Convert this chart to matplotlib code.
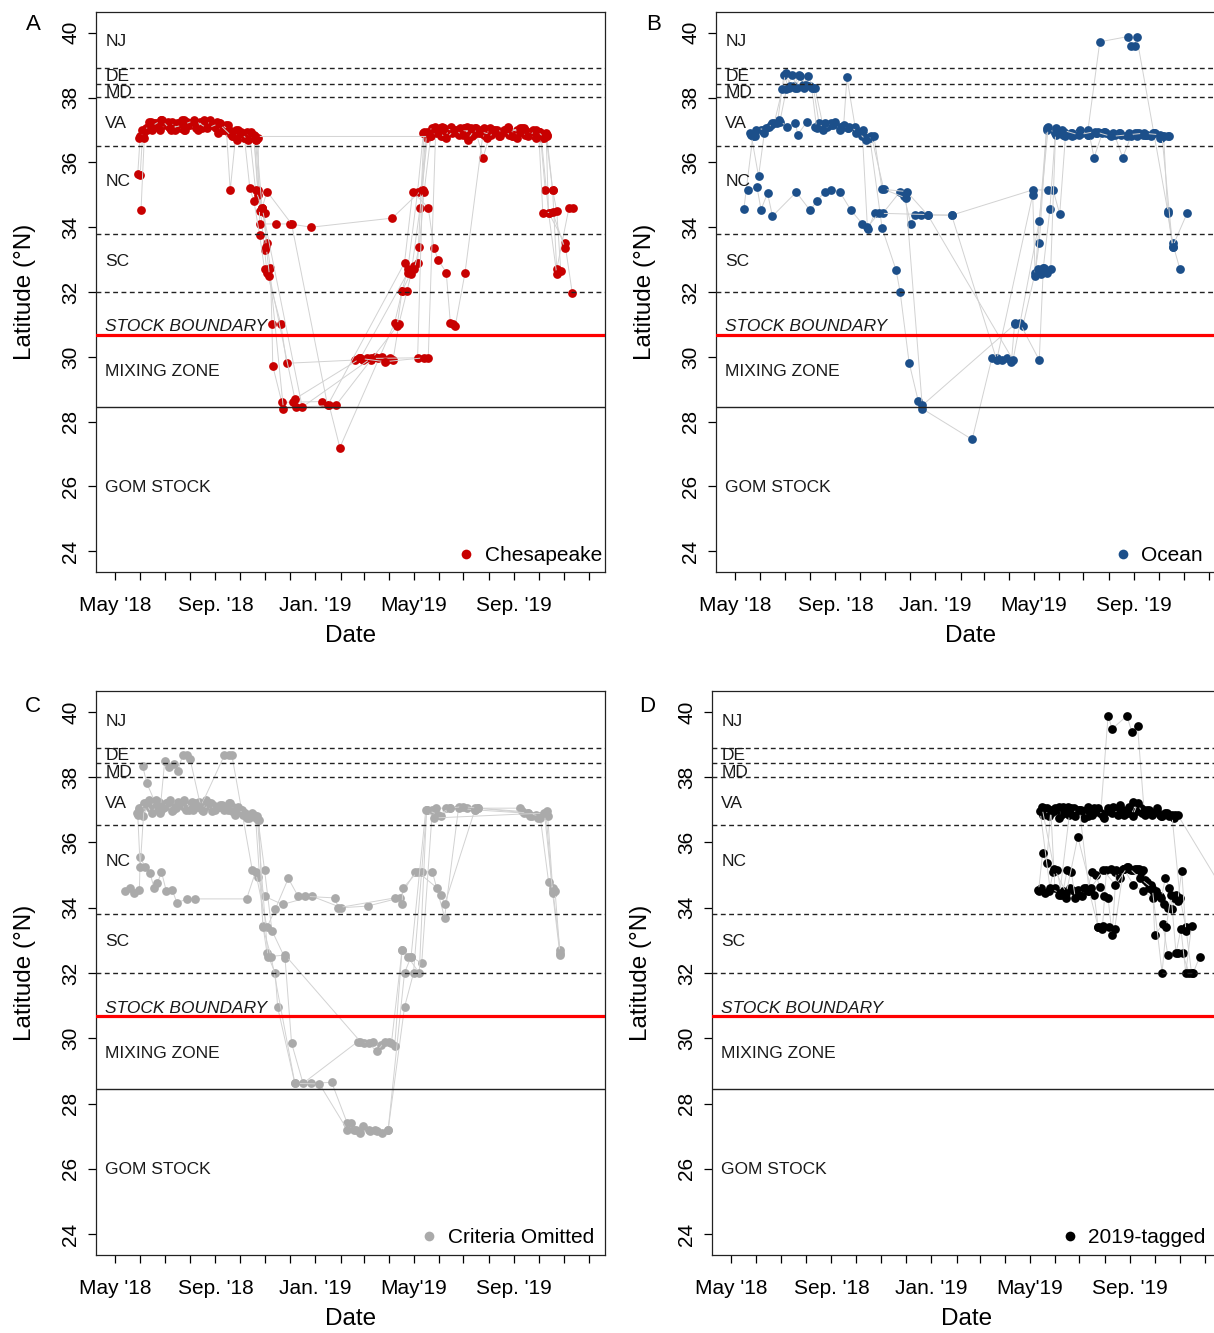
import numpy as np
import matplotlib.pyplot as plt

plt.rcParams['font.family'] = ['Liberation Sans', 'DejaVu Sans']

# each inner list is one fish: days after 1 May 2018 and latitude (deg N)
chs_days = [
    [28, 31, 40, 50, 60, 70, 80, 90, 100, 110, 120, 130, 140, 150, 160, 170, 175, 180, 186, 190, 192, 193, 204, 218, 253, 262, 275, 342, 351, 358, 370, 377, 387, 397, 407, 417, 427, 437, 447, 457, 467, 477, 487, 497, 507, 517, 527, 530, 550, 559],
    [31, 34, 44, 54, 64, 74, 84, 94, 104, 114, 124, 134, 144, 154, 164, 172, 178, 183, 186, 203, 210, 293, 298, 303, 308, 313, 318, 322, 327, 332, 336, 340, 347, 357, 362, 373, 380, 390, 400, 410, 420, 430, 440, 450, 460, 470, 480, 490, 500, 510, 520, 527, 535, 540, 545],
    [32, 36, 46, 56, 66, 76, 86, 96, 106, 116, 126, 136, 141, 148, 158, 168, 175, 177, 197, 214, 240, 339, 375, 382, 392, 402, 412, 422, 432, 442, 452, 462, 472, 482, 492, 502, 512, 522, 528],
    [38, 48, 58, 68, 78, 88, 98, 108, 118, 128, 138, 148, 158, 165, 170, 177, 183, 189, 206, 222, 270, 345, 351, 366, 370, 378, 388, 398, 408, 418, 428, 438, 448, 458, 468, 478, 488, 498, 508, 518, 528, 535, 540, 555, 560],
    [42, 52, 62, 72, 82, 92, 102, 112, 122, 132, 142, 152, 162, 170, 175, 183, 185, 189, 220, 300, 358, 366, 372, 378, 386, 394, 400, 411, 421, 431, 441, 451, 461, 471, 481, 491, 501, 511, 521, 530, 540],
    [35, 45, 55, 65, 75, 85, 95, 105, 115, 125, 135, 145, 155, 165, 172, 180, 186, 216, 260, 354, 364, 383, 390, 395, 405, 410, 413, 416, 428, 450, 465, 480, 495, 510, 520, 526],
    [29, 39, 49, 59, 69, 79, 89, 99, 109, 119, 129, 139, 149, 159, 167, 173, 180, 229, 313, 370, 376, 381, 391, 401, 411, 421, 431, 441, 451, 461, 471, 481, 491, 501, 511, 518, 523, 535, 550],
    [300, 330, 378, 383, 392, 402, 420, 440, 460, 480, 500, 515],
    [33, 44, 57, 67, 83, 97, 113, 127, 143, 153, 163, 171, 385, 395, 405, 415, 425, 435, 445, 455, 465, 475, 485, 495, 505, 515, 525],
]
chs_lats = [
    [35.63, 36.8, 37.1, 37.2, 37.15, 37.25, 37.05, 37.2, 37.1, 37.2, 37.15, 37.0, 36.9, 37.0, 36.8, 36.85, 35.15, 34.6, 33.5, 32.75, 31.0, 29.72, 28.6, 28.6, 28.62, 28.5, 27.2, 31.05, 32.03, 32.7, 35.1, 36.9, 37.0, 37.05, 36.9, 37.0, 37.05, 36.8, 36.9, 36.85, 37.0, 37.0, 36.8, 37.0, 36.95, 36.85, 36.9, 34.45, 33.5, 31.97],
    [35.6, 36.9, 37.25, 37.1, 37.2, 37.0, 37.3, 37.2, 37.25, 37.2, 37.05, 37.1, 36.8, 36.95, 36.75, 36.7, 34.5, 33.3, 32.6, 31.0, 29.8, 29.9, 29.95, 29.9, 29.95, 29.9, 30.0, 29.95, 30.0, 29.9, 29.95, 29.9, 31.0, 32.03, 32.55, 34.6, 36.85, 37.05, 37.1, 36.95, 37.0, 37.1, 37.05, 36.15, 37.0, 36.8, 37.05, 36.9, 37.05, 36.9, 36.95, 36.8, 35.15, 34.5, 32.65],
    [34.52, 36.75, 37.0, 37.3, 37.1, 37.2, 37.0, 37.25, 37.05, 37.3, 36.9, 37.15, 35.14, 36.9, 36.75, 36.8, 36.75, 34.1, 34.1, 34.1, 34.0, 34.28, 35.15, 36.75, 37.0, 36.85, 36.9, 37.05, 36.75, 37.0, 36.85, 37.0, 36.9, 36.85, 37.0, 36.9, 36.85, 36.75, 36.85],
    [37.05, 37.2, 37.3, 37.15, 37.1, 37.25, 37.2, 37.1, 37.2, 37.05, 37.15, 37.0, 36.85, 35.2, 34.8, 33.75, 32.7, 32.7, 28.4, 28.45, 28.5, 30.95, 32.03, 32.8, 32.9, 36.95, 37.05, 36.8, 37.0, 36.9, 37.05, 36.85, 37.0, 37.05, 36.9, 36.95, 36.85, 37.05, 36.9, 36.95, 36.8, 35.15, 32.7, 34.6, 34.6],
    [37.25, 37.1, 37.2, 37.05, 37.3, 37.15, 37.0, 37.25, 37.1, 37.0, 36.9, 36.8, 36.95, 36.75, 35.0, 34.45, 33.4, 32.5, 28.7, 29.95, 32.6, 32.7, 33.4, 35.1, 36.8, 37.0, 36.9, 37.1, 36.85, 37.0, 36.9, 37.05, 36.95, 36.8, 37.0, 36.95, 36.85, 37.0, 36.8, 34.45, 32.55],
    [36.85, 37.15, 37.0, 37.25, 37.1, 37.0, 37.2, 37.1, 37.15, 37.25, 37.0, 36.85, 36.9, 36.8, 35.15, 34.6, 35.1, 34.1, 28.5, 32.9, 35.1, 34.6, 33.35, 33.0, 32.6, 31.05, 31.0, 30.95, 32.6, 36.9, 37.0, 36.95, 37.05, 36.9, 36.85, 35.15],
    [36.75, 37.0, 37.15, 37.25, 37.0, 37.2, 37.15, 37.05, 37.3, 37.15, 37.2, 37.0, 36.7, 36.75, 36.95, 36.7, 34.6, 28.45, 29.95, 29.97, 35.15, 36.95, 37.1, 36.8, 37.0, 36.9, 36.7, 37.05, 36.85, 37.0, 36.9, 37.1, 36.75, 37.0, 36.85, 36.95, 34.45, 34.46, 33.35],
    [29.95, 29.85, 29.97, 29.97, 36.9, 37.05, 36.95, 37.0, 36.85, 37.05, 36.9, 36.75],
    [37.0, 37.1, 37.3, 37.05, 37.15, 37.3, 37.05, 37.2, 36.8, 36.9, 36.7, 36.8, 36.8, 36.95, 36.75, 37.0, 36.85, 37.05, 36.9, 36.75, 36.95, 37.0, 36.8, 36.95, 36.8, 37.0, 36.75],
]

ocn_days = [
    [11, 22, 32, 42, 52, 60, 66, 72, 78, 85, 92, 98, 108, 118, 128, 138, 148, 158, 165, 180, 197, 202, 213, 224, 229, 290, 314, 320, 326, 332, 338, 342, 352, 367, 372, 381, 391, 401, 411, 421, 431, 446, 480, 484, 489, 491, 529, 535, 544],
    [16, 27, 32, 40, 46, 75, 92, 100, 110, 118, 128, 142, 156, 163, 171, 181, 202, 207, 215, 220, 228, 236, 265, 364, 383, 389, 397, 404, 414, 424, 434, 444, 454, 464, 474, 484, 494, 504, 514, 524, 529, 535, 553],
    [20, 29, 36, 45, 55, 63, 70, 76, 83, 90, 96, 103, 113, 123, 133, 137, 147, 157, 167, 182, 209, 229, 342, 348, 372, 377, 385, 392, 402, 412, 422, 432, 439, 449, 459, 469, 479, 489, 499, 509, 519, 529],
    [25, 34, 44, 54, 64, 74, 77, 88, 98, 108, 118, 128, 138, 148, 156, 162, 176, 265, 320, 364, 367, 381, 391, 401, 411, 421, 431, 441, 451, 461, 471, 481, 491, 501, 511, 521, 531],
    [18, 26, 38, 48, 58, 62, 68, 74, 80, 87, 94, 100, 110, 120, 130, 140, 150, 160, 170, 180, 210, 236, 340, 372, 383, 392, 402, 412, 422, 432, 442, 452, 462, 472, 482, 492, 502, 512, 522, 535],
    [370, 374, 378, 382, 386, 392, 400, 420, 440, 460, 480, 500, 520],
]
ocn_lats = [
    [34.55, 36.8, 37.0, 37.1, 37.2, 38.7, 38.3, 38.35, 38.7, 38.3, 38.35, 38.3, 37.1, 37.15, 37.0, 37.05, 37.0, 36.85, 36.75, 33.97, 32.68, 32.0, 29.82, 28.65, 28.4, 27.45, 29.95, 29.95, 29.9, 29.95, 29.85, 31.05, 30.95, 32.6, 33.5, 37.0, 36.9, 36.95, 36.85, 36.9, 36.9, 39.72, 39.88, 39.6, 39.6, 39.88, 34.5, 33.5, 32.7],
    [35.14, 35.25, 34.54, 35.05, 34.34, 35.08, 34.52, 34.8, 35.1, 35.15, 35.1, 34.52, 34.1, 33.95, 34.43, 34.43, 35.1, 34.95, 34.1, 34.37, 34.37, 34.37, 34.37, 35.15, 35.15, 35.15, 34.4, 36.8, 36.85, 36.9, 36.85, 36.95, 36.9, 36.85, 36.15, 36.8, 36.9, 36.85, 36.9, 36.8, 34.45, 33.4, 34.45],
    [36.85, 35.57, 36.9, 37.2, 37.25, 38.25, 38.7, 38.3, 38.4, 38.65, 38.3, 37.2, 37.1, 37.25, 37.15, 38.62, 37.1, 37.0, 36.8, 35.17, 34.9, 28.5, 31.0, 31.05, 29.9, 32.75, 34.55, 37.05, 36.9, 36.8, 36.9, 37.0, 36.15, 36.9, 36.85, 36.9, 36.8, 36.9, 36.85, 36.8, 36.75, 36.8],
    [36.8, 37.0, 37.15, 37.3, 37.1, 37.2, 36.86, 37.25, 37.1, 37.0, 37.2, 37.1, 37.05, 36.9, 36.8, 34.0, 34.43, 34.37, 29.9, 35.0, 32.5, 37.05, 36.95, 36.85, 36.9, 36.95, 36.85, 36.9, 36.95, 36.85, 36.9, 36.85, 36.9, 36.85, 36.9, 36.75, 36.8],
    [36.9, 37.0, 37.05, 37.2, 38.25, 38.75, 38.35, 38.3, 38.65, 38.4, 38.3, 37.05, 37.2, 37.15, 37.05, 37.1, 36.95, 36.7, 36.8, 35.17, 35.1, 34.37, 29.9, 34.18, 37.1, 36.85, 36.95, 36.9, 37.0, 36.85, 36.9, 36.95, 36.9, 36.85, 36.9, 36.8, 36.85, 36.9, 36.8, 33.4],
    [32.7, 32.55, 32.75, 32.6, 32.7, 36.95, 37.0, 36.85, 36.95, 36.8, 36.85, 36.9, 36.85],
]

omit_days = [
    [27, 33, 40, 47, 54, 61, 68, 75, 82, 89, 96, 103, 110, 117, 124, 131, 138, 145, 152, 159, 166, 172, 181, 186, 196, 199, 220, 240, 265, 284, 292, 300, 310, 320, 334, 354, 365, 381, 392, 405, 420, 440, 495, 505, 515, 529, 535, 544],
    [29, 35, 42, 49, 56, 63, 70, 77, 84, 91, 98, 105, 112, 119, 126, 133, 140, 147, 154, 161, 168, 175, 183, 192, 208, 216, 230, 297, 305, 315, 325, 335, 342, 351, 362, 375, 388, 399, 410, 430, 444, 497, 507, 517, 527, 535, 544],
    [34, 39, 55, 61, 66, 72, 77, 83, 88, 92, 105, 134, 139, 143, 168, 175, 183, 205, 241, 277, 309, 348, 367, 375, 388, 403, 420, 440],
    [12, 18, 24, 30, 31, 37, 43, 48, 52, 57, 63, 70, 76, 88, 98, 161, 172, 186, 196, 212, 224, 232, 269, 273, 342, 351, 352, 370, 394, 399, 403, 440, 500, 510, 520, 530, 538, 544],
    [28, 31, 36, 43, 50, 57, 64, 71, 78, 85, 92, 99, 106, 113, 120, 127, 134, 141, 148, 155, 162, 169, 174, 187, 208, 300, 310, 320, 330, 338, 351, 358, 372, 381, 395, 410, 425, 444, 505, 520, 528],
    [30, 38, 45, 52, 59, 66, 73, 80, 87, 94, 101, 108, 115, 122, 129, 136, 143, 150, 157, 164, 170, 176, 181, 191, 220, 250, 284, 288, 295, 303, 312, 318, 326, 334, 354, 362, 380, 390, 525, 535],
]
omit_lats = [
    [36.9, 37.1, 37.2, 37.0, 37.25, 37.1, 37.3, 37.05, 37.2, 37.15, 37.0, 37.25, 37.1, 37.2, 37.05, 37.15, 37.0, 37.1, 36.95, 36.9, 36.8, 36.75, 33.45, 32.6, 32.0, 30.95, 28.62, 28.62, 28.65, 27.4, 27.2, 27.1, 27.2, 27.15, 27.2, 30.95, 32.0, 37.0, 37.05, 37.05, 37.1, 37.05, 37.05, 36.9, 36.85, 36.8, 34.6, 32.7],
    [37.05, 36.8, 37.3, 37.15, 37.0, 37.2, 36.95, 37.25, 37.1, 37.0, 37.2, 37.05, 37.3, 36.95, 37.1, 37.0, 37.2, 36.85, 37.0, 36.8, 36.9, 36.7, 35.15, 33.3, 32.45, 29.85, 28.62, 29.9, 29.85, 29.9, 29.8, 29.9, 29.75, 32.7, 32.5, 32.3, 37.0, 36.8, 37.05, 37.05, 37.05, 36.95, 36.8, 36.75, 36.85, 34.45, 32.55],
    [38.35, 37.82, 36.9, 38.5, 38.3, 38.4, 38.2, 38.68, 38.68, 38.55, 37.1, 38.68, 38.68, 38.68, 35.15, 34.95, 34.35, 34.1, 34.35, 34.0, 34.05, 34.3, 35.1, 35.1, 35.1, 33.7, 37.05, 37.0],
    [34.5, 34.6, 34.45, 34.55, 35.55, 35.25, 35.06, 34.6, 34.75, 35.1, 34.5, 34.55, 34.15, 34.27, 34.27, 34.27, 35.1, 33.4, 33.95, 34.9, 34.35, 34.35, 34.3, 34.0, 34.3, 34.1, 34.6, 35.1, 34.6, 34.4, 34.1, 37.0, 36.9, 36.8, 36.75, 34.8, 34.5, 32.6],
    [36.85, 35.25, 37.2, 37.05, 37.3, 37.1, 37.2, 37.0, 37.15, 37.3, 37.05, 37.15, 37.0, 37.25, 37.15, 37.1, 37.05, 37.2, 36.9, 37.0, 36.75, 36.85, 36.8, 32.5, 32.55, 29.9, 29.85, 29.6, 29.9, 29.85, 32.7, 32.5, 32.0, 37.0, 36.85, 37.05, 37.1, 37.05, 36.9, 36.8, 36.95],
    [37.0, 37.2, 36.9, 37.15, 37.05, 37.25, 37.1, 37.2, 37.0, 37.25, 37.1, 36.95, 37.2, 37.0, 37.15, 37.05, 36.95, 37.1, 36.85, 36.75, 36.85, 36.7, 33.4, 32.5, 28.62, 28.6, 27.2, 27.4, 27.2, 27.3, 27.15, 27.2, 27.1, 27.2, 32.0, 32.5, 37.0, 36.75, 36.9, 34.5],
]

new_days = [
    [380, 388, 396, 404, 412, 420, 428, 436, 444, 452, 461, 466, 484, 490, 497, 505, 515, 525, 535, 543],
    [381, 386, 391, 396, 401, 406, 411, 416, 421, 426, 431, 436, 441, 446, 451, 456, 461, 466, 471, 476, 481, 486, 491, 496, 501, 506, 511, 516, 521, 526, 531, 536, 541, 546, 622],
    [383, 389, 395, 401, 407, 413, 419, 425, 431, 437, 443, 449, 455, 461, 467, 473, 479, 485, 491, 497, 503, 509, 515, 521, 527, 533, 539, 549, 556, 563],
    [375, 379, 384, 389, 394, 399, 404, 409, 414, 419, 424, 429, 434, 439, 444, 449, 454, 459, 464, 469, 474, 479, 484, 489, 494, 499, 504, 509, 514, 519, 524, 529, 534, 539, 544],
    [376, 381, 386, 391, 396, 401, 406, 411, 416, 421, 426, 431, 436, 441, 446, 451, 456, 461, 466, 471, 476, 481, 486, 491, 496, 501, 506, 511, 516, 521, 526, 531, 536, 541, 546, 551, 556],
    [378, 390, 402, 414, 426, 438, 449, 455, 462, 469, 480, 492, 504, 516, 518, 528, 534, 546, 552, 560, 565, 573],
    [380, 395, 410, 424, 440, 455, 470, 485, 500, 515, 527, 532, 538, 544, 550, 556, 563],
]
new_lats = [
    [37.0, 36.9, 37.05, 36.85, 37.1, 36.95, 37.0, 36.8, 37.05, 36.9, 39.88, 39.48, 39.88, 39.39, 39.57, 37.0, 36.9, 36.85, 36.8, 36.85],
    [36.85, 37.05, 36.9, 37.0, 36.75, 37.1, 36.9, 37.05, 36.8, 37.0, 36.95, 37.1, 36.85, 37.0, 36.9, 36.75, 37.05, 36.9, 37.0, 37.15, 36.85, 37.1, 37.25, 36.95, 37.05, 36.85, 37.0, 36.9, 37.05, 36.8, 36.9, 36.85, 36.75, 36.85, 33.7],
    [37.05, 36.8, 36.95, 37.1, 36.9, 36.85, 37.05, 36.95, 36.75, 37.0, 36.9, 37.05, 36.8, 36.95, 37.1, 36.85, 37.0, 36.9, 36.8, 37.2, 36.9, 37.0, 36.85, 36.95, 36.8, 36.9, 36.85, 34.3, 33.4, 32.0],
    [34.55, 34.6, 34.45, 34.5, 35.1, 35.15, 34.4, 34.3, 34.6, 34.5, 34.55, 34.35, 34.6, 34.5, 34.4, 33.4, 33.35, 35.15, 35.2, 35.1, 35.0, 35.2, 35.25, 35.15, 35.2, 35.2, 35.15, 34.8, 34.7, 34.5, 34.35, 34.1, 34.0, 33.95, 34.4],
    [34.5, 35.67, 35.37, 37.0, 34.6, 34.4, 34.5, 35.15, 35.1, 34.3, 34.4, 34.6, 34.5, 35.1, 35.0, 34.65, 34.35, 34.3, 33.16, 35.15, 34.9, 35.2, 35.2, 35.15, 35.2, 35.1, 34.85, 34.6, 34.5, 34.4, 34.3, 34.9, 34.6, 34.3, 34.2, 35.12, 33.3],
    [36.95, 34.6, 34.45, 36.9, 37.0, 34.5, 33.4, 33.45, 33.4, 33.35, 35.2, 34.7, 34.5, 34.3, 33.16, 33.5, 32.55, 32.6, 32.6, 32.0, 32.0, 32.5],
    [37.1, 35.2, 34.45, 36.17, 34.6, 35.15, 34.7, 35.25, 34.9, 34.6, 32.0, 33.4, 34.4, 32.6, 33.35, 32.0, 33.45],
]

# region boundaries and labels
state_lines = [38.9, 38.43, 38.02, 36.52, 33.8, 32.0]
stock_line = 30.68
mix_line = 28.46
zone_names = ['NJ', 'DE', 'MD', 'VA', 'NC', 'SC', 'MIXING ZONE', 'GOM STOCK']
zone_lats = [39.72, 38.65, 38.15, 37.2, 35.42, 32.95, 29.54, 25.97]

start = np.datetime64('2018-05-01')
x_range = np.array(['2018-04-08', '2019-12-21'], dtype='datetime64[D]')
month_ticks = np.arange('2018-05', '2020-01', dtype='datetime64[M]').astype('datetime64[D]')
tick_dates = np.array(['2018-05-01', '2018-09-01', '2019-01-01', '2019-05-01', '2019-09-01'],
                      dtype='datetime64[D]')
tick_labels = ["May '18", "Sep. '18", "Jan. '19", "May'19", "Sep. '19"]

W, H = 1214, 1333
fig = plt.figure(figsize=(W / 100, H / 100), dpi=100)

# letter, days, lats, colour, legend label, (left, top, bottom) px, legend anchor, letter pos px
panels = [
    ('A', chs_days, chs_lats, '#c80000', 'Chesapeake', (96, 12, 572), (0.994, 0.012), (33, 25)),
    ('B', ocn_days, ocn_lats, '#1c4f8a', 'Ocean', (716, 12, 572), (0.957, 0.012), (654, 25)),
    ('C', omit_days, omit_lats, '#aaaaaa', 'Criteria Omitted', (96, 691, 1255), (0.978, 0.014), (33, 706)),
    ('D', new_days, new_lats, '#000000', '2019-tagged', (712, 691, 1255), (0.97, 0.014), (647, 706)),
]

for letter, days, lats, col, lab, (left, top, bot), anchor, lpos in panels:
    ax = fig.add_axes([left / W, 1 - bot / H, 509 / W, (bot - top) / H])

    for d, la in zip(days, lats):
        t = start + np.array(d, dtype='timedelta64[D]')
        ax.plot(t, la, color='#d2d2d2', lw=0.7, zorder=2)
        ax.plot(t, la, 'o', color=col, ms=6.3, mew=0, zorder=2)

    for y in state_lines:
        ax.axhline(y, color='#222222', lw=1.0, ls=(0, (3.5, 2.5)), zorder=3)
    ax.axhline(stock_line, color='#ff0000', lw=2.3, zorder=3)
    ax.axhline(mix_line, color='#222222', lw=1.0, zorder=3)

    for name, y in zip(zone_names, zone_lats):
        ax.text(0.018, y, name, transform=ax.get_yaxis_transform(), fontsize=12.5,
                va='center', ha='left', color='#1a1a1a', zorder=4)
    ax.text(0.018, 30.92, 'STOCK BOUNDARY', transform=ax.get_yaxis_transform(),
            fontsize=12.5, style='italic', va='center', ha='left', color='#1a1a1a', zorder=4)

    ax.plot([], [], 'o', color=col, ms=7, mew=0, label=lab)
    ax.legend(loc='lower right', bbox_to_anchor=anchor, frameon=False, fontsize=15,
              handlelength=0.6, handletextpad=0.6, borderaxespad=0, borderpad=0)

    ax.set_xlim(x_range[0], x_range[1])
    ax.set_ylim(23.36, 40.64)
    ax.set_xticks(month_ticks, minor=True)
    ax.set_xticks(tick_dates)
    ax.set_xticklabels(tick_labels, fontsize=15)
    ax.set_yticks(np.arange(24, 41, 2))
    ax.set_yticklabels([str(v) for v in range(24, 41, 2)], fontsize=15, rotation=90, va='center')
    ax.tick_params(axis='x', which='both', length=6, width=0.9, pad=11, direction='out')
    ax.tick_params(axis='y', length=5.5, width=0.9, pad=6)
    for sp in ax.spines.values():
        sp.set_linewidth(0.9)
        sp.set_color('#222222')

    ax.set_xlabel('Date', fontsize=17.5, va='center')
    ax.xaxis.set_label_coords(0.5, -0.114)
    ax.set_ylabel('Latitude (°N)', fontsize=17.5, va='center')
    ax.yaxis.set_label_coords(-0.139, 0.5)

    fig.text(lpos[0] / W, 1 - lpos[1] / H, letter, fontsize=16, ha='center', va='center')

fig.savefig('out.png', dpi=100)
